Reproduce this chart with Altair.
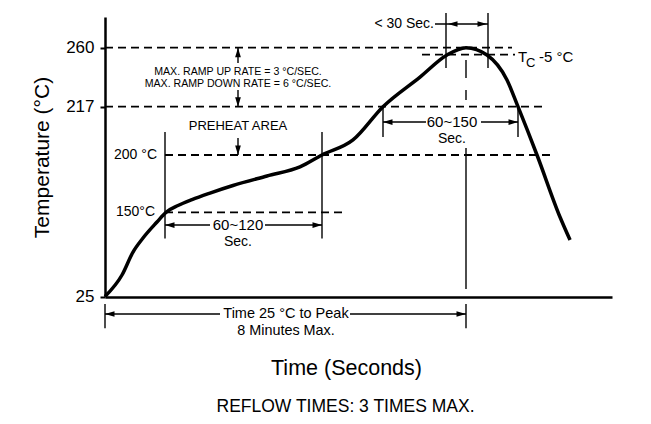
import altair as alt
import pandas as pd

FONT = "Liberation Sans, Arial, sans-serif"

# ---- reflow profile curve (time units, temperature °C) ----
curve_time = [0, 17, 28, 38, 52, 61, 73, 87, 105, 128, 162, 195, 217, 248, 278, 315, 342, 361, 382, 402, 413, 432, 455, 465]
curve_temp = [25, 56.9, 91, 111.8, 135.6, 150, 155.9, 161.1, 166.8, 173.4, 181.7, 189.6, 200, 205.3, 217, 238.6, 254.7, 260, 254.7, 236.5, 217, 200, 143, 109]

# axis tick values
y_ticks = [25, 217, 260]
y_scale_domain = [25, 150, 200, 217, 260, 282.4]
y_scale_range = [279.5, 195.3, 138, 89.7, 30.7, 0]

# dashed reference levels
dash_x1 = [0, 317, 0, 60, 60]
dash_x2 = [407, 410, 437, 450, 242]
dash_y = [260, 255, 217, 200, 150]

# solid guide segments
seg_x1 = [60, 217, 278, 413, 341, 383, 361, 361, 361, 0, 361,
          60, 160, 278, 376, 330, 0, 245, 133, 133, 133]
seg_x2 = [60, 217, 278, 413, 341, 383, 361, 361, 361, 0, 361,
          105, 217, 321, 413, 383, 115, 361, 133, 133, 133]
seg_y1 = [208.1, 208.1, 217, 217, 285.3, 285.3, 251, 229.2, 202.5, 14, 14,
          131.1, 131.1, 211.6, 211.6, 277.3, -1, -1, 248.8, 229.2, 206]
seg_y2 = [111.1, 111.1, 206.3, 206.3, 245.2, 245.2, 237.9, 221.9, 36.1, -22, -22,
          131.1, 131.1, 211.6, 211.6, 277.3, -1, -1, 260, 217, 200]

# arrowheads (tip position and direction)
arr_x = [60, 217, 278, 413, 343, 382, 0, 361, 133, 133, 133]
arr_y = [131.1, 131.1, 211.6, 211.6, 277.3, 277.3, -1, -1, 260, 217, 200]
arr_angle = [0, 180, 0, 180, 0, 180, 0, 180, 90, 270, 270]

# centred texts
c_x = [133, 133, 133, 133, 133, 347, 347, 181, 181]
c_y = [242.5, 233.5, 210.2, 131.1, 105.9, 211.6, 205.6, -1, -26.2]
c_text = ["MAX. RAMP UP RATE = 3 °C/SEC.", "MAX. RAMP DOWN RATE = 6 °C/SEC.", "PREHEAT AREA",
          "60~120", "Sec.", "60~150", "Sec.", "Time 25 °C to Peak", "8 Minutes Max."]
c_size = [10.6, 10.6, 13, 15, 14, 15, 14, 14.5, 14.4]

# right aligned texts
r_x = [52, 50, 329]
r_y = [200, 150, 277.3]
r_text = ["200 °C", "150°C", "< 30 Sec."]
r_size = [14, 14, 14]

# left aligned texts (T_C -5 °C)
l_x = [413, 421, 434]
l_y = [253.2, 248.6, 253.2]
l_text = ["T", "C", "-5 °C"]
l_size = [15, 13, 15]

xs = alt.Scale(domain=[0, 507], nice=False, zero=False)
ys = alt.Scale(domain=y_scale_domain, range=y_scale_range, nice=False, zero=False)

x_axis = alt.Axis(
    title="Time (Seconds)", labels=False, ticks=False, grid=False,
    domainColor="black", domainWidth=2.5, titleFont=FONT, titleFontSize=21.5,
    titleFontWeight="normal", titleColor="black", titleX=241, titleY=71,
    titleAlign="center", titleBaseline="middle")
y_axis = alt.Axis(
    title="Temperature  (°C)", values=y_ticks, grid=False, tickSize=5, tickWidth=2,
    tickColor="black", domainColor="black", domainWidth=2.5, labelFont=FONT,
    labelFontSize=17, labelColor="black", labelPadding=6, titleFont=FONT,
    titleFontSize=21, titleFontWeight="normal", titleColor="black",
    titleX=-63, titleY=140, titleAlign="center", titleBaseline="middle", titleAngle=270)

curve_df = pd.DataFrame({"t": curve_time, "temp": curve_temp})
dash_df = pd.DataFrame({"x1": dash_x1, "x2": dash_x2, "y": dash_y})
seg_df = pd.DataFrame({"x1": seg_x1, "x2": seg_x2, "y1": seg_y1, "y2": seg_y2})
arr_df = pd.DataFrame({"x": arr_x, "y": arr_y, "a": arr_angle})
c_df = pd.DataFrame({"x": c_x, "y": c_y, "label": c_text, "fs": c_size})
r_df = pd.DataFrame({"x": r_x, "y": r_y, "label": r_text, "fs": r_size})
l_df = pd.DataFrame({"x": l_x, "y": l_y, "label": l_text, "fs": l_size})

curve = alt.Chart(curve_df).mark_line(color="black", strokeWidth=3.5, interpolate="monotone").encode(
    x=alt.X("t:Q", scale=xs, axis=x_axis),
    y=alt.Y("temp:Q", scale=ys, axis=y_axis),
)

dashes = alt.Chart(dash_df).mark_rule(color="black", strokeWidth=1.8, strokeDash=[8, 5]).encode(
    x=alt.X("x1:Q", scale=xs, axis=x_axis), x2="x2:Q",
    y=alt.Y("y:Q", scale=ys, axis=y_axis),
)

segs = alt.Chart(seg_df).mark_rule(color="black", strokeWidth=1.4).encode(
    x=alt.X("x1:Q", scale=xs, axis=x_axis), x2="x2:Q",
    y=alt.Y("y1:Q", scale=ys, axis=y_axis), y2="y2:Q",
)

arrows = alt.Chart(arr_df).mark_point(
    shape="M0,0L2,-0.6L2,0.6Z", filled=True, color="black", opacity=1, size=90, strokeWidth=0
).encode(
    x=alt.X("x:Q", scale=xs, axis=x_axis),
    y=alt.Y("y:Q", scale=ys, axis=y_axis),
    angle=alt.Angle("a:Q", scale=None),
)


def texts(df, align):
    return alt.Chart(df).mark_text(font=FONT, color="black", align=align, baseline="middle").encode(
        x=alt.X("x:Q", scale=xs, axis=x_axis),
        y=alt.Y("y:Q", scale=ys, axis=y_axis),
        text="label:N",
        size=alt.Size("fs:Q", scale=None),
    )


chart = alt.layer(
    dashes, segs, arrows, curve, texts(c_df, "center"), texts(r_df, "right"), texts(l_df, "left")
).properties(
    width=507, height=280,
    padding={"left": 97, "top": 9, "right": 31, "bottom": 119},
    autosize=alt.AutoSizeParams(type="none"),
    background="white",
    title=alt.TitleParams("REFLOW TIMES: 3 TIMES MAX.", orient="bottom", anchor="middle",
                          font=FONT, fontSize=17.5, fontWeight="normal", color="black",
                          offset=19, dx=-13),
).configure_view(stroke=None)

chart.save("out.html", embed_options={"renderer": "svg", "actions": False})
